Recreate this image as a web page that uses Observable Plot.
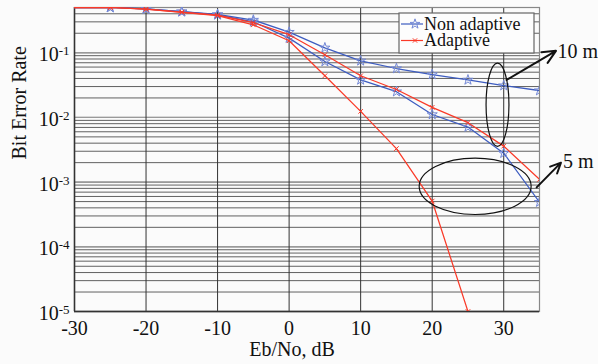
<!DOCTYPE html>
<html><head><meta charset="utf-8">
<script src="https://cdn.jsdelivr.net/npm/d3@7"></script>
<script src="https://cdn.jsdelivr.net/npm/@observablehq/plot@0.6"></script>
<style>body{margin:0;background:#fbfbfb;}</style>
</head><body><div id="chart"></div>
<script>
// Data
const ebno = [-30,-25,-20,-15,-10,-5,0,5,10,15,20,25,30,35];
const nonAdaptive10m = [0.5,0.5,0.475,0.43,0.39,0.32,0.208,0.119,0.075,0.057,0.046,0.038,0.031,0.026];
const nonAdaptive5m  = [0.5,0.5,0.475,0.43,0.385,0.30,0.168,0.073,0.038,0.025,0.0111,0.0071,0.0028,0.00049];
const adaptive10m    = [0.5,0.5,0.47,0.425,0.38,0.292,0.19,0.093,0.044,0.027,0.0143,0.0083,0.0036,0.0011];
const adaptive5m     = [0.5,0.5,0.47,0.42,0.375,0.27,0.153,0.044,0.0124,0.0033,0.00051,0.00001,null,null];
const xTicks = [-30,-20,-10,0,10,20,30];
const yTicks = [1e-1,1e-2,1e-3,1e-4,1e-5];
const gridDecades = [1e-5,1e-4,1e-3,1e-2,1e-1];
const gridMultiples = [1,2,3,4,5,6,7,8,9];
const legendLabels = ["Non adaptive","Adaptive"];
// annotations (data coordinates)
const ellipseX0 = [27.6, 18.25];
const ellipseX1 = [30.8, 33.9];
const ellipseY0 = [0.0035, 0.00031];
const ellipseY1 = [0.068, 0.0023];
const arrowX1 = [30.4, 34.6];
const arrowY1 = [0.038, 0.00083];
const arrowX2 = [37.3, 38.0];
const arrowY2 = [0.107, 0.0020];
const annLabels = ["10 m","5 m"];
const annLabelX = [37.5, 38.3];
const annLabelY = [0.104, 0.00205];

const BLUE = "#3d5cc0", BLUE_M = "#7388d6", RED = "#fa3a28";
const FONT = "Liberation Serif, Times New Roman, serif";

const mk = (vals, series) => ebno.map((x,i)=>({x, y: vals[i], series})).filter(d => d.y != null);
const series = [
  {rows: mk(nonAdaptive10m,"Non adaptive"), color: BLUE, sym: "star"},
  {rows: mk(nonAdaptive5m,"Non adaptive"), color: BLUE, sym: "star"},
  {rows: mk(adaptive10m,"Adaptive"), color: RED, sym: "times"},
  {rows: mk(adaptive5m,"Adaptive"), color: RED, sym: "times"}
];
const minorGrid = gridDecades.flatMap(d => gridMultiples.map(m => m*d)).filter(v => v <= 0.5);
const annotations = annLabels.map((t,i)=>({
  x0: ellipseX0[i], x1: ellipseX1[i], y0: ellipseY0[i], y1: ellipseY1[i],
  ax1: arrowX1[i], ay1: arrowY1[i], ax2: arrowX2[i], ay2: arrowY2[i],
  label: t, lx: annLabelX[i], ly: annLabelY[i]
}));

function ellipses(index, scales) {
  const g = d3.create("svg:g");
  for (const e of annotations) {
    const xa = scales.x(e.x0), xb = scales.x(e.x1);
    const ya = scales.y(e.y0), yb = scales.y(e.y1);
    g.append("ellipse")
      .attr("cx", (xa+xb)/2).attr("cy", (ya+yb)/2)
      .attr("rx", Math.abs(xb-xa)/2).attr("ry", Math.abs(yb-ya)/2)
      .attr("fill","none").attr("stroke","#111").attr("stroke-width",1.2);
  }
  return g.node();
}

function legend(index, scales, values, dimensions) {
  const right = dimensions.width - dimensions.marginRight;
  const top = dimensions.marginTop;
  const g = d3.create("svg:g");
  const bx = right - 140, by = top + 6;
  g.append("rect").attr("x", bx).attr("y", by).attr("width", 135).attr("height", 40)
    .attr("fill", "#fdfdfd").attr("stroke", "#666").attr("stroke-width", 1.2);
  const colors = [BLUE, RED];
  const syms = [d3.symbolStar, d3.symbolTimes];
  legendLabels.forEach((lab, i) => {
    const y = by + 11 + i*16.5;
    g.append("line").attr("x1", bx+2).attr("x2", bx+24).attr("y1", y).attr("y2", y)
      .attr("stroke", colors[i]).attr("stroke-width", 1.2);
    g.append("path").attr("d", d3.symbol(syms[i], i ? 14 : 30)())
      .attr("transform", `translate(${bx+16},${y})`)
      .attr("fill", "none").attr("stroke", i ? RED : BLUE_M).attr("stroke-width", 1);
    g.append("text").attr("x", bx+25).attr("y", y + 5.5).attr("text-anchor", "start")
      .attr("font-family", FONT).attr("font-size", 18).attr("fill", "#111").text(lab);
  });
  return g.node();
}

const marks = [
  Plot.ruleY(minorGrid, {stroke: "#3a3a3a", strokeWidth: 0.8}),
  Plot.ruleY(gridDecades, {stroke: "#9a9a9a", strokeWidth: 1.4}),
  Plot.ruleX(xTicks.slice(1), {stroke: "#333", strokeWidth: 1}),
  Plot.frame({stroke: "#888", strokeWidth: 1.2}),
  Plot.ruleX([-30], {stroke: "#333", strokeWidth: 1.5}),
  Plot.ruleY([1e-5], {stroke: "#333", strokeWidth: 1.5}),
  Plot.axisX({ticks: xTicks, tickSize: 0, tickPadding: 9, label: null, tickFormat: d => String(d)}),
  Plot.axisY({ticks: yTicks, tickSize: 0, tickPadding: 5, label: null,
    tickFormat: d => "10^" + Math.round(Math.log10(d)), dy: 2}),
];
for (const s of series) {
  marks.push(Plot.line(s.rows, {x: "x", y: "y", stroke: s.color, strokeWidth: 1.25, clip: true}));
  marks.push(Plot.dot(s.rows.filter(d => d.x > -30), {x: "x", y: "y", symbol: s.sym,
    r: s.sym === "star" ? 3.2 : 2.2, stroke: s.sym === "star" ? BLUE_M : RED, fill: "none", strokeWidth: 1, clip: true}));
}
marks.push(
  ellipses,
  Plot.arrow(annotations, {x1: "ax1", y1: "ay1", x2: "ax2", y2: "ay2", stroke: "#111", strokeWidth: 2, headLength: 11, headAngle: 50}),
  Plot.text(annotations, {x: "lx", y: "ly", text: "label", textAnchor: "start", fontSize: 20, fill: "#111"}),
  legend,
  Plot.text(["Eb/No, dB"], {frameAnchor: "bottom", dy: 44, dx: -15, fontSize: 20, fill: "#111"}),
  Plot.text(["Bit Error Rate"], {frameAnchor: "left", dx: -55, rotate: -90, fontSize: 20, fill: "#111"})
);

const chart = Plot.plot({
  width: 598, height: 364,
  marginLeft: 74, marginRight: 59, marginTop: 7, marginBottom: 53,
  style: {fontFamily: FONT, fontSize: "20px", background: "#fbfbfb", color: "#111"},
  x: {domain: [-30, 35]},
  y: {type: "log", domain: [1e-5, 0.5]},
  marks
});

// tick label font size and superscript exponents
d3.select(chart).selectAll('g[aria-label="x-axis tick label"], g[aria-label="y-axis tick label"]')
  .attr("font-size", 20).attr("font-family", FONT).attr("fill", "#111");
d3.select(chart).selectAll('g[aria-label="y-axis tick label"] text').each(function() {
  const t = d3.select(this);
  const [base, exp] = t.text().split("^");
  t.text("");
  t.append("tspan").text(base);
  t.append("tspan").attr("dy", "-0.45em").attr("font-size", "13px").text(exp);
});
document.getElementById("chart").appendChild(chart);
</script>
</body></html>
